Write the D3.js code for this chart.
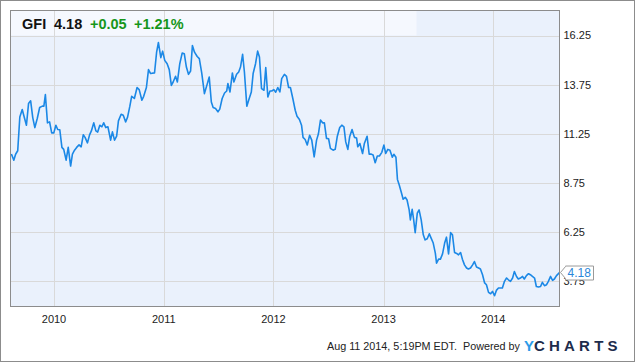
<!DOCTYPE html>
<meta charset="utf-8">
<style>
body { margin: 0; background: #fff; }
text { font-family: "Liberation Sans", Arial, sans-serif; }
.axis text { font-size: 11px; fill: #222; }
.axis .domain { display: none; }
.grid line { stroke: #d9d9d9; stroke-width: 1px; shape-rendering: crispEdges; }
.line { fill: none; stroke: #1b88e6; stroke-width: 1.6px; stroke-linejoin: round; }
</style>
<body>
<script src="https://cdn.jsdelivr.net/npm/d3@7"></script>
<script>

// weekly closes of GFI
var dates = [
  "2009-08-14","2009-08-22","2009-08-28","2009-09-04","2009-09-11","2009-09-19","2009-09-26","2009-10-03",
  "2009-10-10","2009-10-17","2009-10-24","2009-10-31","2009-11-08","2009-11-16","2009-11-25","2009-11-30",
  "2009-12-05","2009-12-12","2009-12-19","2009-12-26",
  "2010-01-02","2010-01-09","2010-01-15","2010-01-22","2010-01-29","2010-02-04","2010-02-12","2010-02-19",
  "2010-02-27","2010-03-05","2010-03-12","2010-03-19","2010-03-27","2010-04-03","2010-04-10","2010-04-16",
  "2010-04-24","2010-05-01","2010-05-07","2010-05-15","2010-05-22","2010-05-28","2010-06-04","2010-06-11",
  "2010-06-17","2010-06-24","2010-07-01","2010-07-10","2010-07-16","2010-07-23","2010-07-30","2010-08-05",
  "2010-08-14","2010-08-21","2010-08-29","2010-09-04","2010-09-12","2010-09-18","2010-09-27","2010-10-06",
  "2010-10-13","2010-10-22","2010-10-28","2010-11-06","2010-11-13","2010-11-20","2010-11-26","2010-12-03",
  "2010-12-10","2010-12-16","2010-12-24","2010-12-30",
  "2011-01-06","2011-01-14","2011-01-21","2011-01-28","2011-02-03","2011-02-11","2011-02-17","2011-02-25",
  "2011-03-05","2011-03-12","2011-03-19","2011-03-26","2011-04-02","2011-04-08","2011-04-15","2011-04-24",
  "2011-05-01","2011-05-09","2011-05-18","2011-05-27","2011-06-03","2011-06-10","2011-06-16","2011-06-24",
  "2011-07-02","2011-07-08","2011-07-16","2011-07-24","2011-07-31","2011-08-04","2011-08-11","2011-08-19",
  "2011-08-24","2011-09-02","2011-09-09","2011-09-15","2011-09-22","2011-09-28","2011-10-06","2011-10-14",
  "2011-10-21","2011-10-27","2011-11-04","2011-11-11","2011-11-17","2011-11-24","2011-12-02","2011-12-08",
  "2011-12-15","2011-12-22","2011-12-28",
  "2012-01-04","2012-01-10","2012-01-17","2012-01-24","2012-01-30","2012-02-08","2012-02-15","2012-02-22",
  "2012-02-28","2012-03-07","2012-03-15","2012-03-21","2012-03-29","2012-04-05","2012-04-10","2012-04-17",
  "2012-04-24","2012-05-02","2012-05-09","2012-05-17","2012-05-25","2012-05-31","2012-06-07","2012-06-14",
  "2012-06-20","2012-06-27","2012-07-04","2012-07-10","2012-07-19","2012-07-26","2012-08-02","2012-08-10",
  "2012-08-17","2012-08-24","2012-08-30","2012-09-06","2012-09-12","2012-09-20","2012-09-28","2012-10-05",
  "2012-10-09","2012-10-16","2012-10-25","2012-10-31","2012-11-09","2012-11-16","2012-11-23","2012-11-29",
  "2012-12-06","2012-12-13","2012-12-20","2012-12-28",
  "2013-01-04","2013-01-10","2013-01-17","2013-01-24","2013-02-01","2013-02-06","2013-02-13","2013-02-18",
  "2013-02-24","2013-03-03","2013-03-09","2013-03-16","2013-03-22","2013-03-29","2013-04-02","2013-04-08",
  "2013-04-13","2013-04-18","2013-04-25","2013-05-01","2013-05-08","2013-05-15","2013-05-21","2013-05-28",
  "2013-06-04","2013-06-10","2013-06-17","2013-06-24","2013-06-28","2013-07-05","2013-07-11","2013-07-18",
  "2013-07-25","2013-07-31","2013-08-07","2013-08-14","2013-08-20","2013-08-27","2013-09-03","2013-09-09",
  "2013-09-16","2013-09-22","2013-09-29","2013-10-06","2013-10-12","2013-10-19","2013-10-26","2013-11-01",
  "2013-11-08","2013-11-15","2013-11-21","2013-11-28","2013-12-05","2013-12-11","2013-12-18","2013-12-25",
  "2013-12-31",
  "2014-01-07","2014-01-13","2014-01-20","2014-01-27","2014-02-02","2014-02-09","2014-02-16","2014-02-22",
  "2014-03-01","2014-03-08","2014-03-14","2014-03-21","2014-03-27","2014-04-03","2014-04-10","2014-04-16",
  "2014-04-23","2014-04-30","2014-05-06","2014-05-13","2014-05-20","2014-05-26","2014-06-02","2014-06-09",
  "2014-06-15","2014-06-22","2014-06-29","2014-07-05","2014-07-12","2014-07-19","2014-07-25","2014-08-01",
  "2014-08-11"
];

var closes = [
  10.21, 9.90,10.20,10.38,12.10,12.48,12.07,11.68,
  12.78,12.92,12.07,11.56,12.02,12.58,12.65,12.65,
  13.24,11.80,11.85,11.29,
  11.29,11.68,11.46,11.45,10.55,10.45, 9.90,10.55,
   9.60,10.21,10.41,10.55,10.68,10.58,11.19,11.06,
  10.78,11.19,11.39,11.80,11.39,11.33,11.68,11.60,
  11.80,11.56,11.60,10.92,11.34,10.92,11.12,11.90,
  12.24,12.19,11.85,12.07,12.65,13.15,13.04,13.60,
  13.49,12.95,13.15,13.60,14.51,14.31,14.33,14.34,
  15.40,15.89,15.12,15.45,
  14.98,14.81,14.51,13.71,13.88,14.17,13.88,14.81,
  15.35,15.32,14.64,14.27,14.44,15.74,15.40,15.18,
  15.07,14.34,13.29,13.76,14.13,12.86,12.58,12.53,
  12.36,12.50,13.04,13.32,13.42,13.80,13.37,14.34,
  13.88,14.27,14.39,14.64,15.29,14.39,12.65,13.04,
  13.37,14.31,14.81,15.45,15.15,13.54,13.46,14.61,
  13.12,13.42,13.42,
  13.49,13.36,13.60,13.37,14.05,14.27,14.17,13.60,
  13.60,13.04,12.44,12.14,11.97,11.68,11.06,10.95,
  10.67,11.17,10.92,10.07,10.92,11.23,11.94,11.80,
  11.80,11.01,10.99,10.50,10.41,10.45,11.12,11.56,
  11.68,11.60,10.83,10.45,11.09,11.46,11.06,11.03,
  10.58,10.75,10.24,10.75,11.12,10.21,10.21,10.16,
   9.77,10.11,10.11,10.30,
  10.67,10.24,10.45,10.40,10.05,10.20,10.05, 8.92,
   8.64, 8.25, 7.91, 8.01, 7.87, 7.37, 6.86, 7.40,
   6.86, 6.21, 7.20, 7.37, 6.86, 6.10, 5.84, 5.90,
   6.15, 5.93, 5.68, 5.17, 4.66, 4.86, 4.86, 5.13,
   5.68, 5.98, 5.13, 6.21, 6.10, 5.20, 5.15, 5.08,
   5.20, 4.86, 4.57, 4.41, 4.36, 4.41, 4.57, 4.74,
   4.46, 4.41, 4.36, 4.07, 3.65, 3.56, 3.17, 3.10,
   3.22,
   3.00, 3.27, 3.39, 3.39, 3.39, 3.73, 3.90, 3.81,
   3.73, 3.90, 4.23, 3.98, 3.85, 3.90, 3.98, 3.85,
   4.02, 4.12, 4.07, 3.98, 3.90, 3.47, 3.44, 3.47,
   3.68, 3.51, 3.56, 3.73, 3.98, 3.78, 3.85, 4.02,
   4.18
];

var yTicks = [3.75, 6.25, 8.75, 11.25, 13.75, 16.25];
var xStart = "2009-08-11", xEnd = "2014-08-11";

var ticker = "GFI", lastPrice = "4.18", change = "+0.05", changePct = "+1.21%";
var stamp = "Aug 11 2014, 5:19PM EDT.  Powered by";

var parseDate = d3.timeParse("%Y-%m-%d");
var data = dates.map(function(d, i) { return {date: parseDate(d), close: closes[i]}; });

// plot box
var W = 635, H = 362;
var plotLeft = 10.5, plotTop = 10.5, width = 549, height = 296;

var x = d3.scaleTime()
    .domain([parseDate(xStart), parseDate(xEnd)])
    .range([0, width]);
var y = d3.scaleLinear()
    .domain([2.45, 17.52])
    .range([height, 0]);

var svg = d3.select("body").append("svg")
    .attr("width", W)
    .attr("height", H);

// outer frame
svg.append("rect")
    .attr("x", 0.5).attr("y", 0.5)
    .attr("width", W - 1).attr("height", H - 1)
    .attr("fill", "#fff").attr("stroke", "#8c8c8c");

var g = svg.append("g")
    .attr("transform", "translate(" + plotLeft + "," + plotTop + ")");

g.append("rect")
    .attr("width", width).attr("height", height)
    .attr("fill", "#eaf1fc");

// lighter band behind the quote
g.append("rect")
    .attr("x", 0).attr("y", 0)
    .attr("width", 406).attr("height", y(16.25))
    .attr("fill", "#f5f8fe");

// grid
g.append("g")
    .attr("class", "grid")
    .selectAll("line")
    .data(yTicks)
    .enter().append("line")
    .attr("x1", 0).attr("x2", width)
    .attr("y1", function(d) { return Math.round(y(d)) + 0.5; })
    .attr("y2", function(d) { return Math.round(y(d)) + 0.5; });

var years = x.ticks(d3.timeYear.every(1));
g.append("g")
    .attr("class", "grid")
    .selectAll("line")
    .data(years)
    .enter().append("line")
    .attr("y1", 0).attr("y2", height)
    .attr("x1", function(d) { return Math.round(x(d)) + 0.5; })
    .attr("x2", function(d) { return Math.round(x(d)) + 0.5; });

g.append("clipPath").attr("id", "clip")
  .append("rect").attr("width", width).attr("height", height);

var valueline = d3.line()
    .x(function(d) { return x(d.date); })
    .y(function(d) { return y(d.close); });

g.append("path")
    .datum(data)
    .attr("class", "line")
    .attr("clip-path", "url(#clip)")
    .attr("d", valueline);

// plot frame
g.append("rect")
    .attr("width", width).attr("height", height)
    .attr("fill", "none").attr("stroke", "#8c8c8c");

// axes
g.append("g")
    .attr("class", "axis")
    .attr("transform", "translate(0," + height + ")")
    .call(d3.axisBottom(x).tickValues(years).tickSize(0).tickPadding(9)
        .tickFormat(d3.timeFormat("%Y")));

g.append("g")
    .attr("class", "axis")
    .attr("transform", "translate(" + width + ",0)")
    .call(d3.axisRight(y).tickValues(yTicks).tickSize(0).tickPadding(4)
        .tickFormat(d3.format(".2f")));

// last price flag (covers the lowest tick label, as in the original)
var last = data[data.length - 1];
var fy = y(last.close), fx = width + 1;
g.append("path")
    .attr("d", "M" + fx + "," + fy + " l5,-6 v-0.5 h28 v14 h-28 v-1.5 z")
    .attr("fill", "#fff").attr("stroke", "#9a9a9a");
g.append("text")
    .attr("x", fx + 7).attr("y", fy + 4.5)
    .attr("font-size", "12px")
    .attr("fill", "#2a86d9")
    .text(lastPrice);

// quote header
var head = svg.append("text")
    .attr("x", 22).attr("y", 29)
    .attr("font-size", "14.5px")
    .attr("font-weight", "bold");
head.append("tspan").attr("fill", "#111").text(ticker);
head.append("tspan").attr("x", 54).attr("fill", "#111").text(lastPrice);
head.append("tspan").attr("x", 90).attr("fill", "#16961a").text(change);
head.append("tspan").attr("x", 134).attr("fill", "#16961a").text(changePct);

// footer
svg.append("text")
    .attr("x", 520).attr("y", 350)
    .attr("text-anchor", "end")
    .attr("font-size", "10.8px")
    .attr("fill", "#222")
    .style("white-space", "pre")
    .text(stamp);

var logo = svg.append("text")
    .attr("x", 524).attr("y", 351)
    .attr("font-size", "15px")
    .attr("font-weight", "bold");
logo.append("tspan").attr("fill", "#2c9be8").text("Y");
logo.append("tspan").attr("fill", "#1d2c4c").attr("letter-spacing", "4.2px").text("CHARTS");

</script>
</body>
